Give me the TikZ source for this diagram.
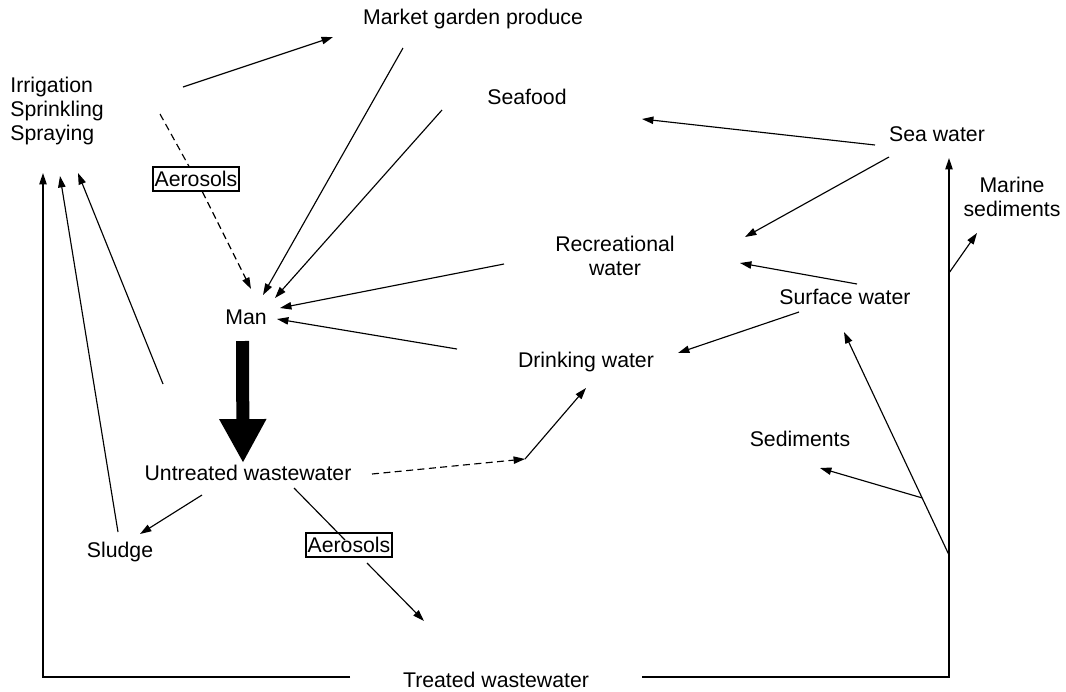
\documentclass[tikz,border=0pt]{standalone}
\usepackage{fontspec}
\setmainfont{Liberation Sans}
\usetikzlibrary{calc, arrows.meta}
\tikzset{>={Triangle[length=6.5pt, width=4.2pt]}}
\tikzset{
  lbl/.style = {font=\fontsize{12.1}{13.6}\selectfont, inner sep=0pt},
  aero/.style = {lbl, draw, line width=1.1pt, inner xsep=0.9pt, inner ysep=2.3pt},
  flow/.style = {->, line width=0.65pt},
  spray/.style = {line width=0.65pt, dash pattern=on 4pt off 2.5pt}
}

\begin{document}
\begin{tikzpicture}[x=0.02cm, y=-0.02cm]
\useasboundingbox (0,0) rectangle (1066,691);

\node [lbl, anchor = base] (market) at (473,24) {Market garden produce};
\node [lbl, align = left, anchor = north west] (irrig) at (10,77) {Irrigation\\Sprinkling\\Spraying};
\node [lbl, anchor = base] (seafood) at (527,104) {Seafood};
\node [lbl, anchor = base] (seawater) at (937,141) {Sea water};
\node [lbl, align = center, anchor = north] (marine) at (1012,177) {Marine\\sediments};
\node [lbl, align = center, anchor = north] (recreation) at (615,236) {Recreational\\water};
\node [lbl, anchor = base] (surface) at (845,304) {Surface water};
\node [lbl, anchor = base] (drinking) at (586,367) {Drinking water};
\node [lbl, anchor = base] (man) at (246,324) {Man};
\node [lbl, anchor = base] (untreated) at (248,480) {Untreated wastewater};
\node [lbl, anchor = base] (sludge) at (120,557) {Sludge};
\node [lbl, anchor = base] (sediments) at (800,446) {Sediments};
\node [lbl, anchor = base] (treated) at (496,687) {Treated wastewater};
\node [aero] (aeroA) at (196,179) {Aerosols};
\node [aero] (aeroB) at (349,545) {Aerosols};

% routes to man
\draw [flow] ([shift={(173,10)}]irrig.north west) -- ([shift={(-140,13)}]market.base);
\draw [flow] ([shift={(-70,24)}]market.base) -- ([shift={(17,-29)}]man.base);
\draw [flow] ([shift={(-85,6)}]seafood.base) -- ([shift={(29,-26)}]man.base);
\draw [flow] ([shift={(-111,28)}]recreation.north) -- ([shift={(34,-16)}]man.base);
\draw [flow] ([shift={(-129,-18)}]drinking.base) -- ([shift={(31,-5)}]man.base);
\draw [spray] ([shift={(150,37)}]irrig.north west) -- (aeroA);
\draw [spray, ->] (aeroA) -- ([shift={(5,-35)}]man.base);

% man -> untreated wastewater
\draw [line width=7.4pt, -{Triangle[length=25pt, width=25pt]}] ([shift={(-3.5,17)}]man.base) -- ([shift={(-5,-17)}]untreated.base);

\coordinate (elbow) at ([shift={(-61,92)}]drinking.base);
\draw [spray, ->] ([shift={(124,-6)}]untreated.base) -- (elbow);
\draw [flow] (elbow) -- ([shift={(0,21)}]drinking.base);
\draw [flow] ([shift={(-46,15)}]untreated.base) -- ([shift={(20,-23)}]sludge.base);
\draw [line width=0.65pt] ([shift={(46,8)}]untreated.base) -- ([shift={(-4,-5)}]aeroB.center);
\draw [flow] ([shift={(18,18)}]aeroB.center) -- ([shift={(-72,-66)}]treated.base);

% back to irrigation
\draw [flow] ([shift={(-2,-25)}]sludge.base) -- ([shift={(50,99)}]irrig.north west);
\draw [flow] ([shift={(-85,-96)}]untreated.base) -- ([shift={(68,96)}]irrig.north west);
\draw [flow] ([shift={(-146,-10)}]treated.base) -| ([shift={(33,96)}]irrig.north west);

% treated wastewater to the sea
\coordinate (seaIn) at ([shift={(12,17)}]seawater.base);
\draw [flow] ([shift={(146,-10)}]treated.base) -| (seaIn);
\coordinate (jm) at ($(seaIn)+(0,115)$);
\coordinate (js) at ($(seaIn)+(0,397)$);
\coordinate (surfIn) at ([shift={(-1,28)}]surface.base);
\coordinate (jsed) at ($(js)!0.256!(surfIn)$);
\draw [flow] (jm) -- ([shift={(-35,56)}]marine.north);
\draw [flow] (js) -- (surfIn);
\draw [flow] (jsed) -- ([shift={(20,22)}]sediments.base);

\draw [flow] ([shift={(-62,4)}]seawater.base) -- ([shift={(115,15)}]seafood.base);
\draw [flow] ([shift={(-48,16)}]seawater.base) -- ([shift={(130,1)}]recreation.north);
\draw [flow] ([shift={(12,-20)}]surface.base) -- ([shift={(125,27)}]recreation.north);
\draw [flow] ([shift={(-46,8)}]surface.base) -- ([shift={(92,-14)}]drinking.base);
\end{tikzpicture}
\end{document}
